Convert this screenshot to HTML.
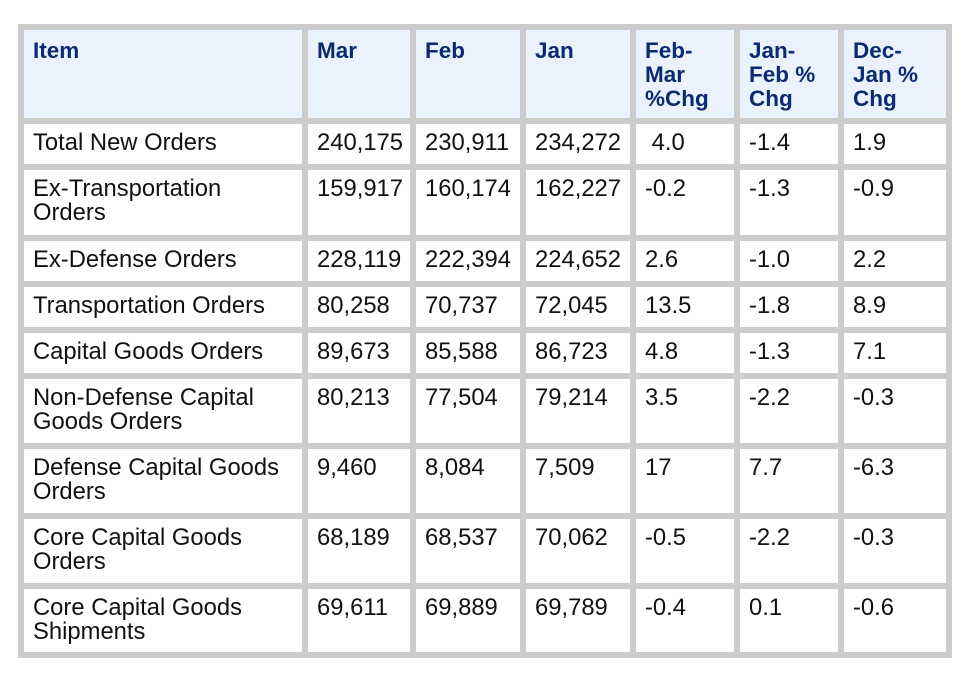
<!DOCTYPE html>
<html><head><meta charset="utf-8"><style>
html,body{margin:0;padding:0;background:#fff;width:970px;height:690px;overflow:hidden}
#tbl{position:absolute;left:18px;top:24px;background:#cccccc;padding:6px;display:grid;
grid-template-columns:278px 102px 104px 104px 98px 98px 102px;
grid-template-rows:88px 40px 65px 40px 40px 40px 64px 64px 64px 63px;gap:6px;
font-family:"Liberation Sans",Arial,sans-serif;font-size:23.8px;line-height:24px;color:#111}
#tbl div{background:#fff;padding:7px 0 0 9px;box-sizing:border-box;overflow:hidden;white-space:nowrap}
#tbl div.h{background:#eaf2fe;color:#0b2a6f;font-weight:bold;font-size:22.5px;padding-top:9px}
</style></head><body>
<div id="tbl"></div>
<script>
const headers=["Item","Mar","Feb","Jan","Feb-<br>Mar<br>%Chg","Jan-<br>Feb %<br>Chg","Dec-<br>Jan %<br>Chg"];
const items=["Total New Orders","Ex-Transportation<br>Orders","Ex-Defense Orders","Transportation Orders","Capital Goods Orders","Non-Defense Capital<br>Goods Orders","Defense Capital Goods<br>Orders","Core Capital Goods<br>Orders","Core Capital Goods<br>Shipments"];
const mar=["240,175","159,917","228,119","80,258","89,673","80,213","9,460","68,189","69,611"];
const feb=["230,911","160,174","222,394","70,737","85,588","77,504","8,084","68,537","69,889"];
const jan=["234,272","162,227","224,652","72,045","86,723","79,214","7,509","70,062","69,789"];
const chg1=["&nbsp;4.0","-0.2","2.6","13.5","4.8","3.5","17","-0.5","-0.4"];
const chg2=["-1.4","-1.3","-1.0","-1.8","-1.3","-2.2","7.7","-2.2","0.1"];
const chg3=["1.9","-0.9","2.2","8.9","7.1","-0.3","-6.3","-0.3","-0.6"];
const t=document.getElementById('tbl');
headers.forEach(h=>{const d=document.createElement('div');d.className='h';d.innerHTML=h;


t.appendChild(d);});
items.forEach((it,i)=>{[it,mar[i],feb[i],jan[i],chg1[i],chg2[i],chg3[i]].forEach((v,j)=>{
const d=document.createElement('div');d.innerHTML=v;


t.appendChild(d);});});
</script>
</body></html>
